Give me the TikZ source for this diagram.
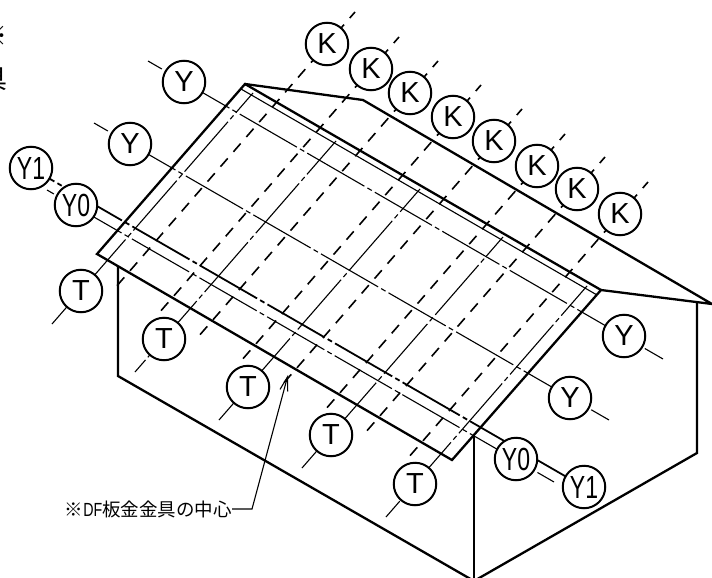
\documentclass[tikz,border=0pt]{standalone}
\usepackage{fontspec}
\setmainfont{Liberation Sans}
\newfontfamily\cjk{Noto Sans CJK JP}
\newfontfamily\narrowf[FakeStretch=0.72]{Liberation Sans}
\newfontfamily\halff[FakeStretch=0.75]{Liberation Sans}
\usetikzlibrary{calc,backgrounds,arrows.meta}
\tikzset{
  thinln/.style={line width=1.1pt},
  heavyln/.style={line width=2.3pt,line join=miter},
  chainln/.style={line width=1.1pt,dash pattern=on 66pt off 3.5pt on 5pt off 3.5pt,dash phase=#1},
  chainheavy/.style={line width=1.8pt,dash pattern=on 66pt off 3.5pt on 5pt off 3.5pt,dash phase=#1},
  dashln/.style={line width=1.6pt,dash pattern=on 11pt off 8.7pt,dash phase=3pt},
  bubble/.style={circle,draw,fill=white,line width=2pt,minimum size=42.5pt,inner sep=0pt,font=\fontsize{29}{31}\selectfont},
  bubblen/.style={bubble,font=\narrowf\fontsize{32}{34}\selectfont},
}
\begin{document}
\begin{tikzpicture}[x=1pt,y=-1pt]
\useasboundingbox (0,0) rectangle (712,578);
\begin{scope}
\clip (0,0) rectangle (712,578);
% circled labels
\foreach \n/\px/\py in {1/327/44,2/371/69,3/410/93,4/453/117,5/494/141,6/537/166,7/577/189,8/620/214}
  \node[bubble] (k\n) at (\px,\py) {K};
\foreach \n/\px/\py in {1/81/291,2/164/339,3/248/387,4/331/435,5/415/484}
  \node[bubble] (t\n) at (\px,\py) {T};
\node[bubble] (ya) at (184,82) {Y};
\node[bubble] (yb) at (624,336) {Y};
\node[bubble] (yc) at (130,144) {Y};
\node[bubble] (yd) at (570,398) {Y};
\node[bubblen] (yoa) at (76,205) {Y0};
\node[bubblen] (yob) at (516,459) {Y0};
\node[bubblen] (yia) at (31,168) {Y1};
\node[bubblen] (yib) at (584,487) {Y1};
% text cropped by the left edge, as in the reference
\node[anchor=east,inner sep=0pt,font=\cjk\fontsize{26}{28}\selectfont] (cuta) at (8,36) {※};
\node[anchor=east,inner sep=0pt,font=\cjk\fontsize{26}{28}\selectfont] (cutb) at (8,79) {具};
% note
\node[anchor=east,inner sep=0pt,font=\cjk\fontsize{18.5}{20}\selectfont] (note) at (232,509)
  {※{\halff\fontsize{19}{20}\selectfont DF}板金金具の中心};
\coordinate (bend) at (252,509);
\coordinate (tip) at (288,375);
\draw[thinln,-{Straight Barb[length=14pt,width=8pt]}] (note.east) -- (bend) -- (tip);
% house outline
\coordinate (ra) at (245,84);
\coordinate (rb) at (97,254);
\coordinate (rc) at (452,460);
\coordinate (rd) at (601,290);
\coordinate (re) at (363,100);
\coordinate (rf) at (712,304);
\coordinate (wa) at (118,266);
\coordinate (wb) at (118,376);
\coordinate (wc) at (474,581);
\coordinate (wd) at (697,453);
\coordinate (we) at (697,303);
\coordinate (wf) at (474,435);
\draw[heavyln] (ra) -- (rb) -- (rc) -- (rd) -- cycle;
\draw[heavyln] (ra) -- (re) -- (rf) -- (rd);
\draw[heavyln] (wa) -- (wb) -- (wc) -- (wd) -- (we);
\draw[thinln] (wf) -- (wc);
\coordinate (ga) at (241,89);
\coordinate (gb) at (597,295);
\draw[thinln] (ga) -- (gb);
\end{scope}
\begin{pgfonlayer}{background}
\begin{scope}
\clip (0,0) rectangle (712,578);
\foreach \n in {1,...,8}
  \draw[dashln] ($(k\n)+(28,-32)$) -- ($(k\n)+(-212,244)$);
\foreach \n/\ph in {1/32,2/50,3/36,4/31,5/45}
  \draw[chainln=\ph] ($(t\n)+(-29,33)$) -- ($(t\n)+(172,-198)$);
\coordinate (yaS) at (148,61);
\coordinate (ybE) at (663,359);
\coordinate (ycS) at (94,123);
\coordinate (ydE) at (609,420);
\coordinate (yoS) at (47,190);
\coordinate (yoE) at (554,482);
\draw[chainln=50] (yaS) -- (ybE);
\draw[chainln=50] (ycS) -- (ydE);
\draw[chainln=58] (yoS) -- (yoE);
\draw[chainheavy=39] (yia.center) -- (yib.center);
\end{scope}
\end{pgfonlayer}
\end{tikzpicture}
\end{document}
